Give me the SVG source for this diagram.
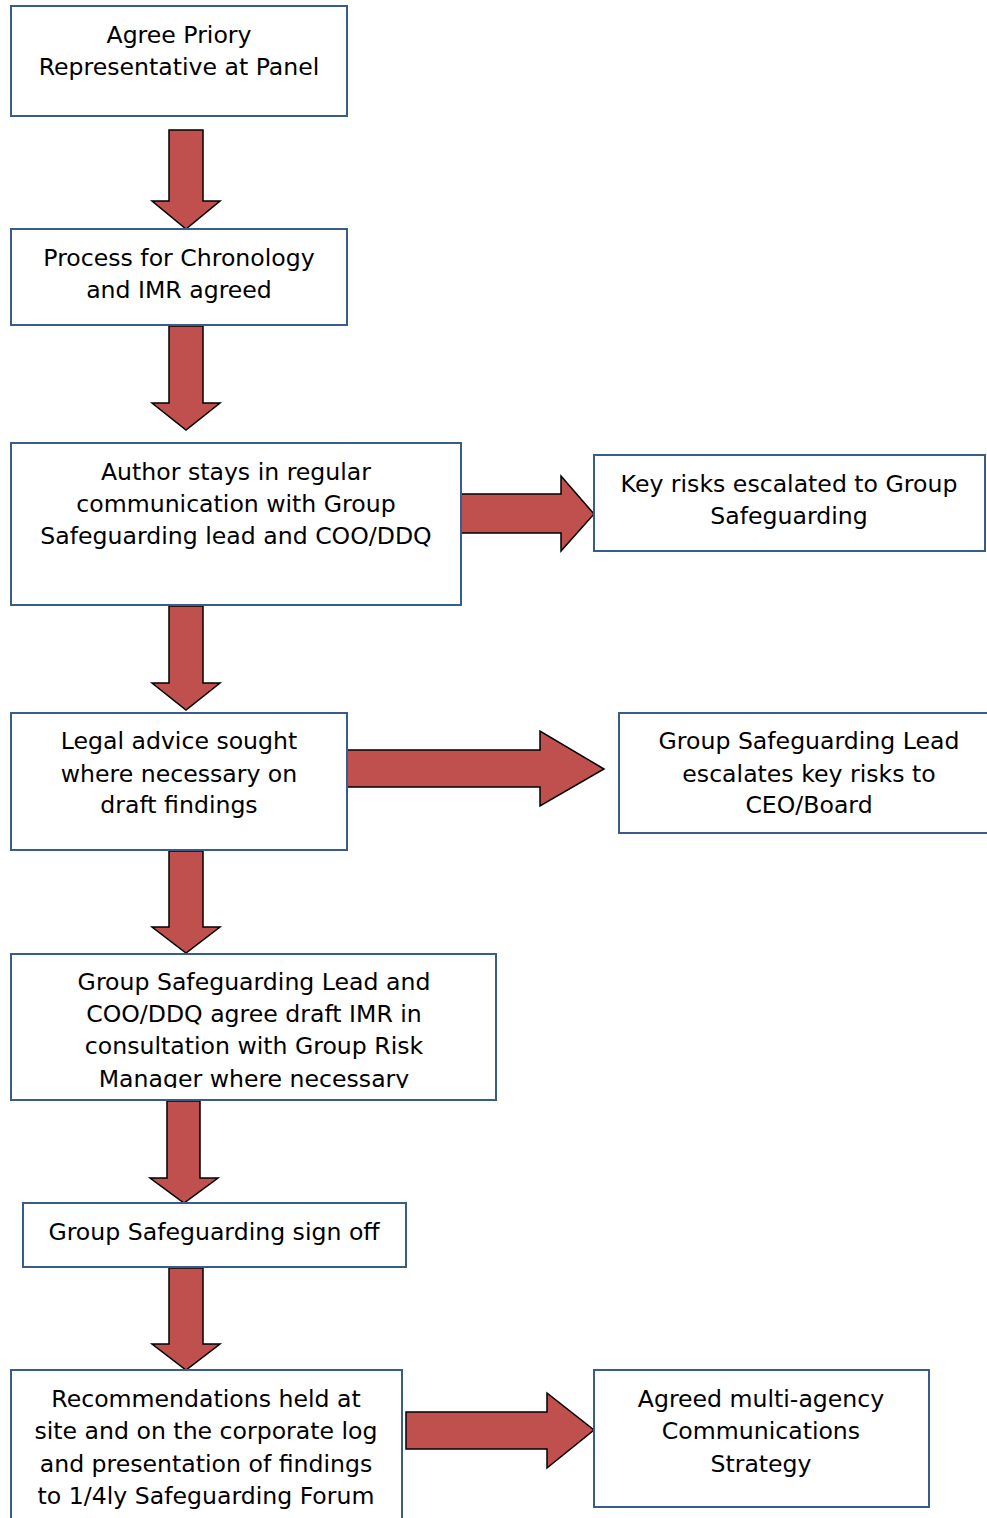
<svg xmlns="http://www.w3.org/2000/svg" width="987" height="1518" viewBox="0 0 987 1518">
<style>
.box{fill:#fff;stroke:#385D8A;stroke-width:2}
.arr{fill:#C0504D;stroke:#000;stroke-width:1.5;stroke-linejoin:miter}
text{font-family:"DejaVu Sans",Verdana,sans-serif;font-size:23.6px;fill:#000;text-anchor:middle}
</style>
<defs>
<clipPath id="c7"><rect x="11" y="954" width="485" height="134"/></clipPath>
</defs>
<g id="connectors">
<path class="arr" d="M169,130 H203 V201 H220 L186,229 L152,201 H169 Z"/>
<path class="arr" d="M169,326 H203 V403 H220 L186,430 L152,403 H169 Z"/>
<path class="arr" d="M461,494 H561 V476 L594,514 L561,551 V533 H461 Z"/>
<path class="arr" d="M169,606 H203 V683 H220 L186,710 L152,683 H169 Z"/>
<path class="arr" d="M347,750 H540 V731 L604,769 L540,806 V787 H347 Z"/>
<path class="arr" d="M169,851 H203 V927 H220 L186,953 L152,927 H169 Z"/>
<path class="arr" d="M167,1101 H200 V1178 H218 L184,1203 L150,1178 H167 Z"/>
<path class="arr" d="M169,1268 H203 V1344 H220 L186,1370 L152,1344 H169 Z"/>
<path class="arr" d="M406,1412 H547 V1393 L594,1430 L547,1468 V1449 H406 Z"/>
</g>
<g id="n1"><rect class="box" x="11" y="6" width="336" height="110"/>
<text x="179" y="43">Agree Priory</text><text x="179" y="75">Representative at Panel</text></g>
<g id="n2"><rect class="box" x="11" y="229" width="336" height="96"/>
<text x="179" y="266">Process for Chronology</text><text x="179" y="298">and IMR agreed</text></g>
<g id="n3"><rect class="box" x="11" y="443" width="450" height="162"/>
<text x="236" y="480">Author stays in regular</text><text x="236" y="512">communication with Group</text><text x="236" y="544">Safeguarding lead and COO/DDQ</text></g>
<g id="n4"><rect class="box" x="594" y="455" width="391" height="96"/>
<text x="789" y="492">Key risks escalated to Group</text><text x="789" y="524">Safeguarding</text></g>
<g id="n5"><rect class="box" x="11" y="713" width="336" height="137"/>
<text x="179" y="749">Legal advice sought</text><text x="179" y="782">where necessary on</text><text x="179" y="813">draft findings</text></g>
<g id="n6"><rect class="box" x="619" y="713" width="380" height="120"/>
<text x="809" y="749">Group Safeguarding Lead</text><text x="809" y="782">escalates key risks to</text><text x="809" y="813">CEO/Board</text></g>
<g id="n7"><rect class="box" x="11" y="954" width="485" height="146"/>
<g clip-path="url(#c7)"><text x="254" y="990">Group Safeguarding Lead and</text><text x="254" y="1022">COO/DDQ agree draft IMR in</text><text x="254" y="1054">consultation with Group Risk</text><text x="254" y="1087">Manager where necessary</text></g></g>
<g id="n8"><rect class="box" x="23" y="1203" width="383" height="64"/>
<text x="214" y="1240">Group Safeguarding sign off</text></g>
<g id="n9"><rect class="box" x="11" y="1370" width="391" height="160"/>
<text x="206" y="1407">Recommendations held at</text><text x="206" y="1439">site and on the corporate log</text><text x="206" y="1472">and presentation of findings</text><text x="206" y="1504">to 1/4ly Safeguarding Forum</text></g>
<g id="n10"><rect class="box" x="594" y="1370" width="335" height="137"/>
<text x="761" y="1407">Agreed multi-agency</text><text x="761" y="1439">Communications</text><text x="761" y="1472">Strategy</text></g>
</svg>
